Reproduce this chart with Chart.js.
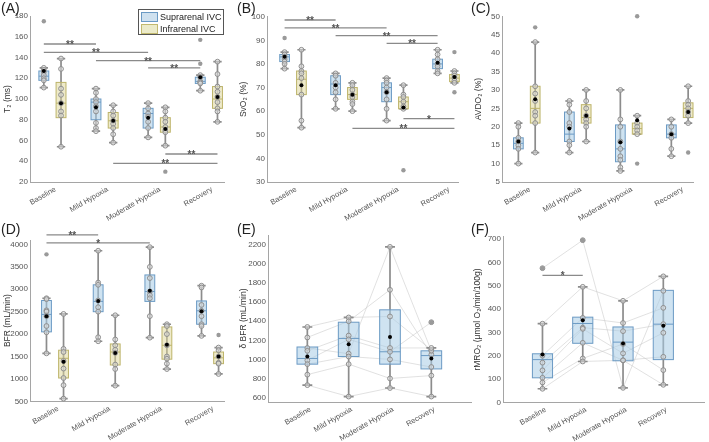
<!DOCTYPE html>
<html>
<head>
<meta charset="utf-8">
<script src="https://cdn.jsdelivr.net/npm/chart.js@4.4.0/dist/chart.umd.min.js"></script>
<style>
    body { margin: 0; background: #fff; width: 709px; height: 442px; position: relative; overflow: hidden; font-family: 'Liberation Sans', Arial, sans-serif; }
    canvas { position: absolute; }
    .tag { position: absolute; font-size: 14px; line-height: 14px; color: #222; }
    .legend { position: absolute; left: 138px; top: 9px; width: 84px; height: 24px; border: 1px solid #555; background: #fff; font-size: 9px; color: #222; }
    .legend .row { position: absolute; left: 2px; height: 10px; line-height: 10px; white-space: nowrap; }
    .legend .sw { display: inline-block; width: 15px; height: 8px; border: 1px solid; vertical-align: top; margin-right: 2px; }
</style>
</head>
<body>
<canvas id="cA"></canvas>
<canvas id="cB"></canvas>
<canvas id="cC"></canvas>
<canvas id="cD"></canvas>
<canvas id="cE"></canvas>
<canvas id="cF"></canvas>

<div class="tag" style="left:1px;top:1px">(A)</div>
<div class="tag" style="left:237px;top:1px">(B)</div>
<div class="tag" style="left:471px;top:1px">(C)</div>
<div class="tag" style="left:1px;top:222px">(D)</div>
<div class="tag" style="left:237px;top:222px">(E)</div>
<div class="tag" style="left:471px;top:222px">(F)</div>

<div class="legend">
    <div class="row" style="top:2px"><span class="sw" style="background:#cfe1ef;border-color:#6b9ac4"></span>Suprarenal IVC</div>
    <div class="row" style="top:14px"><span class="sw" style="background:#ecebc9;border-color:#c2b96e"></span>Infrarenal IVC</div>
</div>

<script>
const categories = ['Baseline', 'Mild Hypoxia', 'Moderate Hypoxia', 'Recovery'];

// box rows are [lower whisker, q1, median, q3, upper whisker]

// --- (A) T2 ---
const t2Ticks = [20, 40, 60, 80, 100, 120, 140, 160, 180];
const t2SupBox = [[111, 118, 122, 127, 130], [69, 80, 97, 100, 110], [63, 72, 86, 91, 96], [108, 115, 117, 121, 123]];
const t2SupMean = [127, 92, 82, 121];
const t2SupPts = [[130, 128, 126, 123, 120, 118, 111], [110, 106, 100, 97, 93, 88, 77, 72, 69], [96, 91, 86, 83, 78, 72, 63], [123, 121, 117, 116, 115, 108]];
const t2SupOut = [[175], [], [], [157, 134]];
const t2InfBox = [[54, 82, 96, 116, 139], [58, 72, 79, 87, 94], [55, 68, 73, 82, 92], [78, 91, 100, 112, 136]];
const t2InfMean = [96, 79, 71, 102];
const t2InfPts = [[139, 129, 110, 104, 96, 88, 84, 54], [94, 88, 84, 79, 76, 72, 66, 58], [92, 88, 82, 78, 73, 70, 68, 55], [136, 124, 112, 107, 102, 97, 91, 88, 78]];
const t2InfOut = [[], [], [30], []];
// [category, series, category, series, y, label]
const t2Sig = [[1, 0, 2, 0, 153, '**'], [1, 0, 3, 0, 145, '**'], [2, 0, 4, 0, 137, '**'], [3, 0, 4, 0, 130, '**'], [3, 1, 4, 1, 47, '**'], [2, 1, 4, 1, 38, '**']];

// --- (B) SvO2 ---
const svTicks = [30, 40, 50, 60, 70, 80, 90, 100];
const svSupBox = [[78, 81, 83, 84, 85], [61, 67, 71.5, 75, 76], [56, 64, 70, 72, 74], [76, 78, 80, 82, 86]];
const svSupMean = [83, 71, 68, 80.5];
const svSupPts = [[85, 84, 83, 82, 81, 80, 78], [76, 75, 72, 70, 68, 65, 61], [74, 73, 72, 70, 68, 65, 61, 56], [86, 84, 82, 80, 79, 77, 76]];
const svSupOut = [[91], [], [], []];
const svInfBox = [[53, 67, 73.5, 77, 86], [60, 65, 67, 70, 72], [61, 61, 64, 66, 71], [72, 72.5, 74, 75.5, 77]];
const svInfMean = [71, 67, 61.5, 74.5];
const svInfPts = [[86, 79, 77, 76, 74, 67, 56, 53], [72, 71, 69, 67, 66, 64, 63, 60], [71, 67, 66, 64, 62, 61], [77, 76, 75, 74, 73, 72]];
const svInfOut = [[], [], [35], [85, 68]];
const svSig = [[1, 0, 2, 0, 98.6, '**'], [1, 0, 3, 0, 95.3, '**'], [2, 0, 4, 0, 92, '**'], [3, 0, 4, 0, 88.7, '**'], [3, 1, 4, 1, 56.8, '*'], [2, 1, 4, 1, 52.7, '**']];

// --- (C) AVDO2 ---
const avTicks = [5, 10, 15, 20, 25, 30, 35, 40, 45, 50];
const avSupBox = [[10, 14, 15.5, 17, 21], [13, 16, 18, 24, 27], [8, 10.5, 14, 20.5, 30], [12, 17, 18, 20.5, 22]];
const avSupMean = [16, 19.5, 15.8, 18];
const avSupPts = [[21, 20, 17, 16, 15, 14, 10], [27, 26, 24, 21, 20, 16, 15, 13], [30, 22, 20, 16, 14, 12, 11, 9, 8], [22, 20, 18, 17, 14, 12]];
const avSupOut = [[], [], [], []];
const avInfBox = [[13, 21, 25, 31, 43], [16, 21, 22.5, 26, 30], [18, 18, 19.5, 21, 23], [21, 22.5, 25, 26.5, 31]];
const avInfMean = [27.5, 23, 21.8, 24];
const avInfPts = [[43, 31, 29, 27, 24, 23, 21, 13], [30, 27, 25, 23, 22, 21, 20, 16], [23, 21, 20, 19, 18], [31, 27, 26, 25, 24, 23, 21]];
const avInfOut = [[47], [], [50, 10], [13]];

// --- (D) BFR ---
const bfrTicks = [500, 1000, 1500, 2000, 2500, 3000, 3500, 4000];
const bfrSupBox = [[1570, 2050, 2440, 2750, 2800], [1840, 2500, 2730, 3100, 3860], [1920, 2730, 2950, 3320, 3940], [1960, 2220, 2520, 2740, 3080]];
const bfrSupMean = [2400, 2740, 2970, 2510];
const bfrSupPts = [[2800, 2780, 2530, 2500, 2400, 2180, 2040, 1570], [3860, 3150, 3100, 2750, 2600, 2500, 1930, 1840], [3940, 3500, 3250, 2950, 2870, 2800, 2400, 1920], [3080, 3040, 2650, 2520, 2400, 2220, 2180, 1960]];
const bfrSupOut = [[3780], [], [], []];
const bfrInfBox = [[560, 1020, 1460, 1640, 2450], [850, 1310, 1600, 1780, 2420], [1220, 1440, 1750, 2160, 2220], [1110, 1340, 1470, 1600, 1700]];
const bfrInfMean = [1380, 1580, 1760, 1500];
const bfrInfPts = [[2450, 1670, 1600, 1400, 1230, 1020, 860, 560], [2420, 1880, 1750, 1650, 1580, 1320, 1220, 850], [2220, 2180, 2000, 1750, 1500, 1450, 1340, 1220], [1700, 1640, 1500, 1360, 1340, 1110]];
const bfrInfOut = [[], [], [], [1980]];
const bfrSig = [[1, 0, 2, 0, 4215, '**'], [1, 0, 3, 0, 4037, '*']];

// --- (E) delta BFR, one row per subject ---
const dbfrTicks = [600, 800, 1000, 1200, 1400, 1600, 1800, 2000, 2200];
const dbfrSubjects = [[1340, 1440, 1450, 1100], [1230, 1400, 1730, 1050], [1120, 1060, 2180, 1090], [1090, 1250, 1120, 1120], [990, 1210, 1080, 1390], [950, 1030, 1000, 920], [840, 950, 800, 830], [730, 610, 700, 610]];
const dbfrBox = [[730, 950, 1010, 1130, 1340], [610, 1030, 1220, 1390, 1440], [700, 950, 1080, 1520, 2180], [610, 900, 1040, 1090, 1120]];
const dbfrMean = [1030, 1160, 1235, 1010];
const dbfrOut = [[], [], [], [1390]];

// --- (F) rMRO2, one row per subject ---
const mroTicks = [0, 100, 200, 300, 400, 500, 600, 700];
const mroSubjects = [[575, 695, 62, 478], [337, 495, 435, 540], [200, 362, 340, 405], [170, 320, 305, 335], [137, 315, 210, 298], [105, 255, 180, 195], [85, 188, 250, 138], [58, 175, 180, 75]];
const mroBox = [[58, 105, 183, 208, 337], [175, 253, 338, 365, 495], [62, 178, 258, 323, 435], [75, 183, 335, 480, 540]];
const mroMean = [205, 352, 252, 328];
const mroOut = [[575], [695], [], []];
const mroSig = [[1, 0, 2, 0, 544, '*']];

const BLUE = { fill: 'rgba(168,204,230,0.55)', edge: '#6b9ac4' };
const YELLOW = { fill: 'rgba(222,214,150,0.5)', edge: '#bdb46a' };

const byCategory = (subjects) => categories.map((c, i) => subjects.map(s => s[i]));

// --- Panel setup ---
const panels = {
    cA: {
        rect: [0, 0, 232, 232], pad: [16, 8], yW: 30, xH: 50, x: [0.57, 4.29], y: [20, 180], ticks: t2Ticks,
        title: 'T₂ (ms)', boxWidth: 0.19, cap: 0.08, sig: t2Sig,
        groups: [
            { box: t2SupBox, mean: t2SupMean, pts: t2SupPts, out: t2SupOut, offset: -0.165, colors: BLUE },
            { box: t2InfBox, mean: t2InfMean, pts: t2InfPts, out: t2InfOut, offset: 0.165, colors: YELLOW }
        ]
    },
    cB: {
        rect: [236, 0, 230, 232], pad: [16.7, 8], yW: 31, xH: 50, x: [0.49, 4.235], y: [30, 100], ticks: svTicks,
        title: 'SvO₂ (%)', boxWidth: 0.19, cap: 0.08, sig: svSig,
        groups: [
            { box: svSupBox, mean: svSupMean, pts: svSupPts, out: svSupOut, offset: -0.165, colors: BLUE },
            { box: svInfBox, mean: svInfMean, pts: svInfPts, out: svInfOut, offset: 0.165, colors: YELLOW }
        ]
    },
    cC: {
        rect: [471, 0, 230, 232], pad: [16.3, 8], yW: 31, xH: 50, x: [0.514, 4.26], y: [5, 50], ticks: avTicks,
        title: 'AVDO₂ (%)', boxWidth: 0.19, cap: 0.08, sig: [],
        groups: [
            { box: avSupBox, mean: avSupMean, pts: avSupPts, out: avSupOut, offset: -0.165, colors: BLUE },
            { box: avInfBox, mean: avInfMean, pts: avInfPts, out: avInfOut, offset: 0.165, colors: YELLOW }
        ]
    },
    cD: {
        rect: [0, 222, 232, 220], pad: [18, 8], yW: 30, xH: 40.7, x: [0.516, 4.27], y: [500, 4100], ticks: bfrTicks,
        title: 'BFR (mL/min)', boxWidth: 0.19, cap: 0.08, sig: bfrSig,
        groups: [
            { box: bfrSupBox, mean: bfrSupMean, pts: bfrSupPts, out: bfrSupOut, offset: -0.165, colors: BLUE },
            { box: bfrInfBox, mean: bfrInfMean, pts: bfrInfPts, out: bfrInfOut, offset: 0.165, colors: YELLOW }
        ]
    },
    cE: {
        rect: [236, 222, 240, 220], pad: [13, 3], yW: 32, xH: 40, x: [0.048, 4.96], y: [553, 2305], ticks: dbfrTicks,
        title: 'δ BFR (mL/min)', boxWidth: 0.5, cap: 0.12, sig: [], subjects: dbfrSubjects,
        groups: [
            { box: dbfrBox, mean: dbfrMean, pts: byCategory(dbfrSubjects), out: dbfrOut, offset: 0, colors: BLUE }
        ]
    },
    cF: {
        rect: [470, 222, 239, 220], pad: [14.7, 1], yW: 33, xH: 39.7, x: [0.02, 5.01], y: [0, 710], ticks: mroTicks,
        title: 'rMRO₂ (μmol O₂/min/100g)', boxWidth: 0.5, cap: 0.12, sig: mroSig, subjects: mroSubjects,
        groups: [
            { box: mroBox, mean: mroMean, pts: byCategory(mroSubjects), out: mroOut, offset: 0, colors: BLUE }
        ]
    }
};

// --- Drawing plugin for boxes and significance bars ---
function drawBoxes(chart) {
    const cfg = panels[chart.canvas.id];
    const { ctx } = chart;
    const x = chart.scales.x, y = chart.scales.y;
    const half = (x.getPixelForValue(cfg.boxWidth) - x.getPixelForValue(0)) / 2;
    const cap = x.getPixelForValue(cfg.cap) - x.getPixelForValue(0);
    ctx.save();
    cfg.groups.forEach(g => {
        g.box.forEach((b, i) => {
            const cx = x.getPixelForValue(i + 1 + g.offset);
            const [lo, q1, med, q3, hi] = b.map(v => y.getPixelForValue(v));
            ctx.strokeStyle = '#8c8c8c';
            ctx.lineWidth = 1.7;
            ctx.beginPath();
            ctx.moveTo(cx, lo); ctx.lineTo(cx, hi);
            ctx.moveTo(cx - cap, lo); ctx.lineTo(cx + cap, lo);
            ctx.moveTo(cx - cap, hi); ctx.lineTo(cx + cap, hi);
            ctx.stroke();
            ctx.fillStyle = g.colors.fill;
            ctx.fillRect(cx - half, q3, 2 * half, q1 - q3);
            ctx.strokeStyle = g.colors.edge;
            ctx.lineWidth = 1;
            ctx.strokeRect(cx - half, q3, 2 * half, q1 - q3);
            ctx.beginPath();
            ctx.moveTo(cx - half, med); ctx.lineTo(cx + half, med);
            ctx.stroke();
        });
    });
    ctx.restore();
}

function drawSig(chart) {
    const cfg = panels[chart.canvas.id];
    const { ctx } = chart;
    const x = chart.scales.x, y = chart.scales.y;
    ctx.save();
    cfg.sig.forEach(([c1, s1, c2, s2, v, label]) => {
        const x1 = x.getPixelForValue(c1 + cfg.groups[s1].offset);
        const x2 = x.getPixelForValue(c2 + cfg.groups[s2].offset);
        const py = y.getPixelForValue(v);
        ctx.strokeStyle = '#8a8a8a';
        ctx.lineWidth = 1.3;
        ctx.beginPath();
        ctx.moveTo(x1, py); ctx.lineTo(x2, py);
        ctx.stroke();
        ctx.fillStyle = '#555';
        ctx.font = 'bold 10px "Liberation Sans", Arial, sans-serif';
        ctx.textAlign = 'center';
        ctx.textBaseline = 'alphabetic';
        ctx.fillText(label, (x1 + x2) / 2, py + 4);
    });
    ctx.restore();
}

const boxPlugin = {
    id: 'boxes',
    beforeDraw(chart) { chart.$boxesDone = false; },
    beforeDatasetDraw(chart, args) {
        if (chart.$boxesDone || chart.data.datasets[args.index].order !== 2) return;
        chart.$boxesDone = true;
        drawBoxes(chart);
    },
    afterDraw(chart) { drawSig(chart); }
};

function buildDatasets(cfg) {
    const ds = [];
    (cfg.subjects || []).forEach(s => {
        ds.push({
            order: 3, showLine: true, clip: 6,
            data: s.map((v, i) => ({ x: i + 1, y: v })),
            borderColor: 'rgba(200,200,200,0.55)', borderWidth: 1, pointRadius: 0
        });
    });
    cfg.groups.forEach(g => {
        ds.push({
            order: 2, clip: 6,
            data: g.pts.flatMap((arr, i) => arr.map(v => ({ x: i + 1 + g.offset, y: v }))),
            pointRadius: 2.4, pointBorderWidth: 1,
            pointBorderColor: '#8e8e8e', pointBackgroundColor: 'rgba(222,222,222,0.55)'
        });
        ds.push({
            order: 1, clip: 6,
            data: g.out.flatMap((arr, i) => arr.map(v => ({ x: i + 1 + g.offset, y: v }))),
            pointRadius: 2.2, pointBorderWidth: 0,
            pointBackgroundColor: '#9a9a9a'
        });
        ds.push({
            order: 0, clip: 6,
            data: g.mean.map((v, i) => ({ x: i + 1 + g.offset, y: v })),
            pointRadius: 2, pointBorderWidth: 0,
            pointBackgroundColor: '#000'
        });
    });
    return ds;
}

function makePanel(id) {
    const cfg = panels[id];
    const canvas = document.getElementById(id);
    const [left, top, w, h] = cfg.rect;
    canvas.width = w; canvas.height = h;
    canvas.style.left = left + 'px'; canvas.style.top = top + 'px';
    canvas.style.width = w + 'px'; canvas.style.height = h + 'px';

    new Chart(canvas, {
        type: 'scatter',
        data: { datasets: buildDatasets(cfg) },
        plugins: [boxPlugin],
        options: {
            responsive: false,
            devicePixelRatio: 1,
            animation: false,
            events: [],
            layout: { padding: { top: cfg.pad[0], right: cfg.pad[1], left: 0, bottom: 0 } },
            plugins: { legend: { display: false }, tooltip: { enabled: false } },
            scales: {
                x: {
                    type: 'linear', min: cfg.x[0], max: cfg.x[1],
                    afterBuildTicks: ax => { ax.ticks = categories.map((c, i) => ({ value: i + 1 })); },
                    afterFit: s => { s.height = cfg.xH; s.paddingLeft = 0; s.paddingRight = 0; },
                    grid: { display: false, drawTicks: false },
                    border: { color: '#a5a5a5' },
                    ticks: {
                        callback: v => categories[v - 1], autoSkip: false,
                        minRotation: 30, maxRotation: 30, padding: 3, labelOffset: 3,
                        color: '#555', font: { size: 7.5, family: 'Liberation Sans' }
                    }
                },
                y: {
                    min: cfg.y[0], max: cfg.y[1],
                    afterBuildTicks: ax => { ax.ticks = cfg.ticks.map(v => ({ value: v })); },
                    afterFit: s => { s.width = cfg.yW; s.paddingTop = 0; s.paddingBottom = 0; },
                    grid: { display: false, drawTicks: false },
                    border: { color: '#a5a5a5' },
                    ticks: { callback: v => String(v), padding: 2, color: '#555', font: { size: 8, family: 'Liberation Sans' } },
                    title: {
                        display: true, text: cfg.title, color: '#333',
                        font: { size: 8.5, family: 'Liberation Sans' }, padding: { top: 3, bottom: 2 }
                    }
                }
            }
        }
    });
}

document.addEventListener('DOMContentLoaded', () => {
    Object.keys(panels).forEach(makePanel);
});
</script>
</body>
</html>
